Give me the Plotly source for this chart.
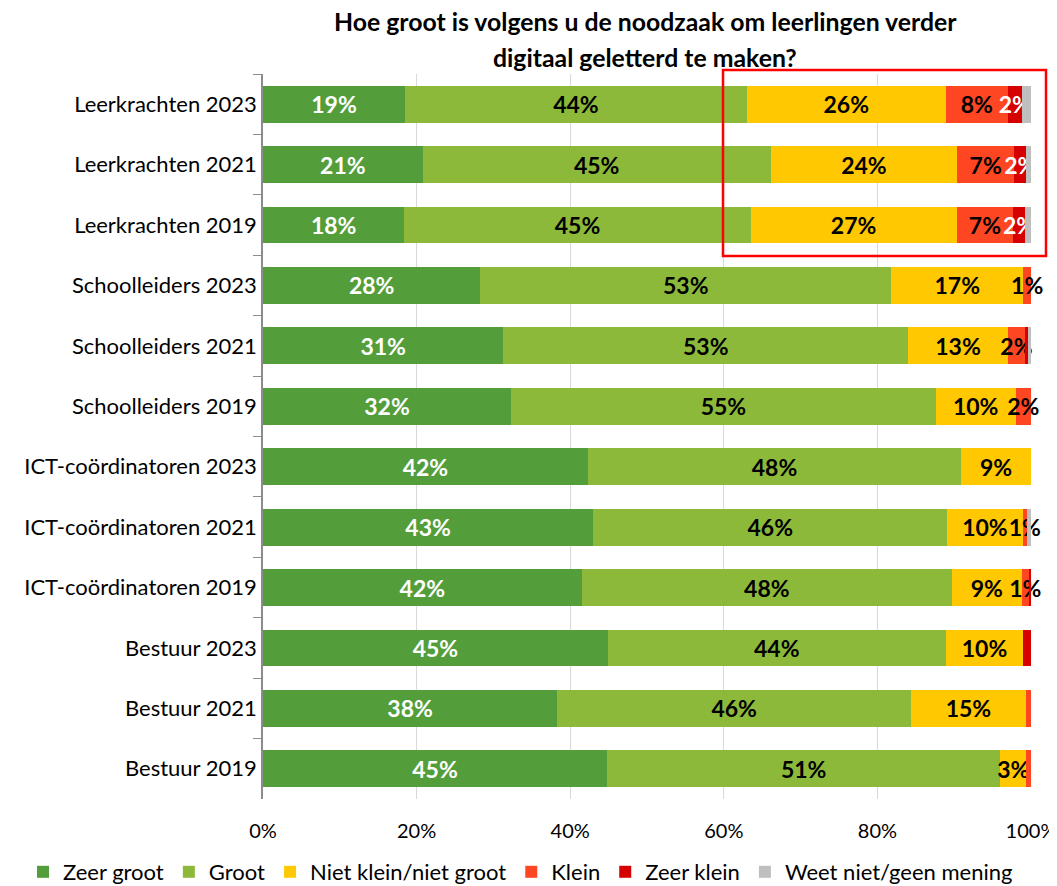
import plotly.graph_objects as go

categories = ["Leerkrachten 2023", "Leerkrachten 2021", "Leerkrachten 2019",
              "Schoolleiders 2023", "Schoolleiders 2021", "Schoolleiders 2019",
              "ICT-coördinatoren 2023", "ICT-coördinatoren 2021", "ICT-coördinatoren 2019",
              "Bestuur 2023", "Bestuur 2021", "Bestuur 2019"]

zeer_groot = [18.5, 20.8, 18.4, 28.3, 31.3, 32.3, 42.3, 43.0, 41.5, 44.9, 38.3, 44.8]
groot = [44.5, 45.3, 45.1, 53.5, 52.7, 55.3, 48.6, 46.1, 48.2, 44.0, 46.1, 51.2]
niet_klein_niet_groot = [25.9, 24.3, 26.8, 17.2, 13.0, 10.4, 9.1, 9.8, 9.1, 10.1, 14.9, 3.4]
klein = [8.1, 7.4, 7.4, 1.0, 2.2, 2.0, 0.0, 0.6, 0.9, 0.0, 0.7, 0.6]
zeer_klein = [1.8, 1.6, 1.5, 0.0, 0.4, 0.0, 0.0, 0.0, 0.3, 1.0, 0.0, 0.0]
weet_niet = [1.2, 0.6, 0.8, 0.0, 0.4, 0.0, 0.0, 0.5, 0.0, 0.0, 0.0, 0.0]

lbl_zeer_groot = ["19%", "21%", "18%", "28%", "31%", "32%", "42%", "43%", "42%", "45%", "38%", "45%"]
lbl_groot = ["44%", "45%", "45%", "53%", "53%", "55%", "48%", "46%", "48%", "44%", "46%", "51%"]
lbl_niet = ["26%", "24%", "27%", "17%", "13%", "10%", "9%", "10%", "9%", "10%", "15%", "3%"]
lbl_klein = ["8%", "7%", "7%", "1%", "2%", "2%", "", "1%", "1%", "", "", ""]
lbl_zeer_klein = ["2%", "2%", "2%", "", "", "", "", "", "", "", "", ""]
lbl_weet = [""] * 12

title_lines = ["Hoe groot is volgens u de noodzaak om leerlingen verder",
               "digitaal geletterd te maken?"]

series = [
    ("Zeer groot", zeer_groot, lbl_zeer_groot, "#539E3B", "white"),
    ("Groot", groot, lbl_groot, "#8DB93A", "black"),
    ("Niet klein/niet groot", niet_klein_niet_groot, lbl_niet, "#FFC800", "black"),
    ("Klein", klein, lbl_klein, "#FF4622", "black"),
    ("Zeer klein", zeer_klein, lbl_zeer_klein, "#D70000", "white"),
    ("Weet niet/geen mening", weet_niet, lbl_weet, "#BFBFBF", "black"),
]

FONT = "Lato"
# The page body has an 8px default margin, so the figure starts at (8, 8) on screen.
OFF = 8
W, H = 1049, 920
PL, PR, PT, PB = 263 - OFF, 1031 - OFF, 74 - OFF, 799 - OFF   # plot area in figure px
PW, PH = PR - PL, PB - PT

fig = go.Figure()
for name, vals, lbls, color, tcolor in series:
    fig.add_trace(go.Bar(
        y=categories, x=vals, name=name, orientation="h",
        marker=dict(color=color, line=dict(width=0)),
        text=lbls, textposition="inside", insidetextanchor="middle",
        textangle=0, constraintext="none", cliponaxis=False,
        textfont=dict(family=FONT, size=23, color=tcolor, weight="bold"),
        hoverinfo="skip",
    ))

fig.update_layout(
    barmode="stack", bargap=0.39,
    width=W, height=H,
    margin=dict(l=PL, r=W - PR, t=PT, b=H - PB),
    paper_bgcolor="white", plot_bgcolor="white",
    font=dict(family=FONT, size=20, color="black"),
    showlegend=True,
    legend=dict(orientation="h", x=(23 - OFF - PL) / PW, xanchor="left",
                y=(PB - (872 - OFF)) / PH, yanchor="middle", bgcolor="rgba(0,0,0,0)",
                font=dict(family=FONT, size=22), traceorder="normal", itemwidth=30),
    xaxis=dict(range=[0, 100], dtick=20, ticksuffix="%", showgrid=True, gridcolor="#D9D9D9",
               gridwidth=1, zeroline=False, showline=False, ticks="", ticklabelstandoff=18,
               tickfont=dict(family=FONT, size=20), automargin=False),
    yaxis=dict(autorange="reversed", showline=True, linecolor="#8C8C8C", linewidth=1.5,
               ticks="outside", tickson="boundaries", ticklen=8, tickcolor="#8C8C8C",
               tickfont=dict(family=FONT, size=22), showgrid=False, automargin=False),
)

for line, ypix in zip(title_lines, [22, 58]):
    fig.add_annotation(text="<b>" + line + "</b>", xref="paper", yref="paper",
                       x=(645 - OFF - PL) / PW, y=(PB - (ypix - OFF)) / PH,
                       xanchor="center", yanchor="middle",
                       showarrow=False, font=dict(family=FONT, size=24.8, color="black"))

fig.add_shape(type="rect", xref="paper", yref="paper",
              x0=(723 - OFF - PL) / PW, x1=(1046 - OFF - PL) / PW,
              y0=(PB - (256 - OFF)) / PH, y1=(PB - (70 - OFF)) / PH,
              line=dict(color="#FF0000", width=2.5), fillcolor="rgba(0,0,0,0)", layer="above")

fig.write_html("out.html")
